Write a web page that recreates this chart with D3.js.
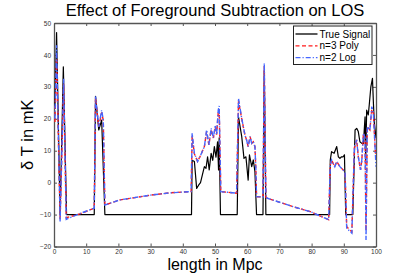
<!DOCTYPE html>
<html>
<head>
<meta charset="utf-8">
<script src="https://cdn.jsdelivr.net/npm/d3@7"></script>
<style>
  body { margin: 0; background: #fff; }
  svg { font-family: "Liberation Sans", Arial, sans-serif; }
  .axis text { font-size: 6.5px; fill: #333; }
  .axis path, .axis line { stroke: #555; }
</style>
</head>
<body>
<div id="chart"></div>
<script>
// posiciones a lo largo de la línea de visión (Mpc)
const signalLos = [0.3, 0.8, 1.9, 2.9, 3.9, 12.5, 12.9, 13.9, 14.8, 15.8, 42.7, 42.9, 43.6, 44.3, 44.9, 45.5, 46.7, 47.2, 47.7, 48.2, 48.8, 49.3, 49.8, 50.3, 50.8, 51.1, 51.3, 51.7, 56.9, 57.3, 58.3, 59.0, 59.6, 60.3, 60.7, 61.4, 61.9, 62.4, 62.9, 64.9, 65.3, 65.8, 85.6, 85.8, 86.2, 87.0, 87.8, 88.3, 88.8, 89.3, 89.8, 90.2, 90.6, 92.8, 93.5, 94.0, 94.5, 95.0, 95.6, 96.1, 96.6, 96.8, 97.1, 97.6, 97.9, 98.4, 98.9, 99.2, 99.5, 100];
// señal verdadera (mK)
const signalT = [24, 47, -10, 36.3, -10, -10, 27, 16.5, 19.6, -10, -10, 7, 6.6, -1.8, -0.8, 0, 5, 4.5, 8.1, 4, 9.2, 7, 11.3, 8, 12.8, 4, 14, -10, -10, 20.6, 14.4, 7.6, 8.1, 0.8, 8.7, 5, 7.1, 3.4, -10, -10, 35, -10, -10, 7.1, 9.7, 9.2, 11.3, 8.1, 7.6, 8.1, 8.1, 8.7, -10, -10, 16.5, 17, 16, 12.8, 12.3, 12.3, 20.6, 7.1, 22.7, 21.2, 24.3, 30, 32.7, 24.8, 18.6, 14];

// posiciones de las dos restas de foreground
const fitLos = [0.3, 0.8, 1.9, 3.0, 3.8, 8, 12.5, 12.9, 13.9, 14.8, 15.3, 15.8, 20.5, 30, 36, 42.6, 42.9, 43.6, 44.6, 45.5, 46.7, 47.4, 48.1, 48.8, 49.5, 50.1, 50.5, 51.0, 51.3, 51.8, 56.7, 57.3, 58.3, 59.3, 59.8, 60.3, 60.9, 61.4, 61.9, 62.4, 62.7, 62.9, 64.9, 65.3, 65.8, 66.3, 74.2, 79.6, 85.3, 85.8, 86.2, 86.7, 87.2, 87.8, 88.8, 89.8, 90.4, 90.9, 92.5, 93.3, 94.0, 94.5, 95.2, 95.6, 96.1, 96.6, 96.9, 97.3, 98.1, 98.7, 99.2, 99.7, 100];
const polyT = [19, 40, -11.5, 31, -11, -9.8, -8, 26.5, 17.5, 22, 19.6, -7, -5.4, -3.9, -3.2, -2.8, 14.5, 9, 6.6, 8.5, 11.3, 16, 11.8, 16.5, 14, 17.5, 15, 22, 23, -2.8, -3.3, 25.5, 20, 14.9, 13.4, 11.3, 14.4, 12.3, 12.8, 11.3, 4, -4.4, -4.5, 36.5, -4.6, -4.9, -7.5, -9.1, -11.6, 5.5, 7.1, 6, 5, 6.6, 5, 4, 2.9, -13.8, -15.4, 11, 13.4, 8.1, 4, 7.1, 15.5, 14, -15, 17.5, 16.5, 23, 21.7, 11.3, 7.1];
const logT = [20, 43, -12.2, 32.5, -11.5, -9.7, -8, 27, 17.5, 22.7, 19.6, -7, -5.4, -3.9, -3.2, -2.8, 15.5, 9.2, 6.6, 8.5, 11.3, 16.5, 11.8, 17, 14, 18, 15, 22.7, 24, -2.8, -3.3, 26.4, 20.1, 14.9, 13.4, 11.3, 14.4, 12.3, 12.8, 11.3, 4, -4.4, -4.5, 37.4, -4.6, -4.9, -7.5, -9.1, -11.6, 5.5, 7.1, 6, 5, 6.6, 5, 4, 2.9, -14.3, -15.8, 11.3, 13.4, 8.1, 4, 7.1, 15.5, 14, -18, 17.5, 16.5, 23.8, 21.7, 11.3, 5];

const xTicks = [0, 10, 20, 30, 40, 50, 60, 70, 80, 90, 100];
const yTicks = [-20, -10, 0, 10, 20, 30, 40, 50];
const legendLabels = ['True Signal', 'n=3 Poly', 'n=2 Log'];

const width = 415;
const height = 278;
const margin = { top: 23, right: 39, bottom: 31.5, left: 54 };

const x = d3.scaleLinear().domain([0, 100]).range([margin.left, width - margin.right]);
const y = d3.scaleLinear().domain([-20, 50]).range([height - margin.bottom, margin.top]);

const svg = d3.select('#chart')
  .append('svg')
  .attr('width', width)
  .attr('height', height);

svg.append('defs').append('clipPath')
  .attr('id', 'clip')
  .append('rect')
  .attr('x', x(0)).attr('y', y(50))
  .attr('width', x(100) - x(0)).attr('height', y(-20) - y(50));

// ejes con las marcas hacia dentro, estilo matlab
svg.append('g')
  .attr('class', 'x axis')
  .attr('transform', `translate(0,${y(-20)})`)
  .call(d3.axisBottom(x).tickValues(xTicks).tickSizeInner(-3).tickSizeOuter(0).tickPadding(2.5));

svg.append('g')
  .attr('class', 'x axis top')
  .attr('transform', `translate(0,${y(50)})`)
  .call(d3.axisTop(x).tickValues(xTicks).tickSizeInner(-3).tickSizeOuter(0).tickFormat(''));

svg.append('g')
  .attr('class', 'y axis')
  .attr('transform', `translate(${x(0)},0)`)
  .call(d3.axisLeft(y).tickValues(yTicks).tickSizeInner(-3).tickSizeOuter(0).tickPadding(3));

svg.append('g')
  .attr('class', 'y axis right')
  .attr('transform', `translate(${x(100)},0)`)
  .call(d3.axisRight(y).tickValues(yTicks).tickSizeInner(-3).tickSizeOuter(0).tickFormat(''));

svg.selectAll('.axis .domain').attr('stroke-width', 1.3);

const lineOf = (los, vals) => d3.line()
  .x((d, i) => x(los[i]))
  .y(d => y(d))(vals);

const plot = svg.append('g').attr('clip-path', 'url(#clip)');

plot.append('path')
  .attr('d', lineOf(signalLos, signalT))
  .attr('fill', 'none')
  .attr('stroke', '#000')
  .attr('stroke-width', 1.2)
  .attr('stroke-linejoin', 'round');

plot.append('path')
  .attr('d', lineOf(fitLos, polyT))
  .attr('fill', 'none')
  .attr('stroke', '#ff1a1a')
  .attr('stroke-width', 1.4)
  .attr('stroke-dasharray', '4,2.5');

plot.append('path')
  .attr('d', lineOf(fitLos, logT))
  .attr('fill', 'none')
  .attr('stroke', '#4466ff')
  .attr('stroke-width', 1.4)
  .attr('stroke-dasharray', '5,2,1.2,2');

// leyenda
const legendG = svg.append('g').attr('class', 'legend');
legendG.append('rect')
  .attr('x', 293.5).attr('y', 26)
  .attr('width', 78.5).attr('height', 38.5)
  .attr('fill', '#fff')
  .attr('stroke', '#222')
  .attr('stroke-width', 1);

const legendStyles = [
  { stroke: '#000', dash: null },
  { stroke: '#ff1a1a', dash: '4,2.5' },
  { stroke: '#4466ff', dash: '5,2,1.2,2' }
];

legendLabels.forEach((label, i) => {
  const cy = 34 + i * 11.8;
  legendG.append('line')
    .attr('x1', 295.5).attr('x2', 317.5)
    .attr('y1', cy).attr('y2', cy)
    .attr('stroke', legendStyles[i].stroke)
    .attr('stroke-width', 1.3)
    .attr('stroke-dasharray', legendStyles[i].dash);
  legendG.append('text')
    .attr('x', 319.5).attr('y', cy + 3.6)
    .attr('font-size', 10)
    .attr('fill', '#000')
    .text(label);
});

// títulos
svg.append('text')
  .attr('x', 215).attr('y', 15.5)
  .attr('text-anchor', 'middle')
  .attr('font-size', 16.5)
  .text('Effect of Foreground Subtraction on LOS');

svg.append('text')
  .attr('x', 215).attr('y', 270)
  .attr('text-anchor', 'middle')
  .attr('font-size', 16)
  .text('length in Mpc');

svg.append('text')
  .attr('transform', `translate(33,${(y(50) + y(-20)) / 2}) rotate(-90)`)
  .attr('text-anchor', 'middle')
  .attr('font-size', 16.5)
  .text('δ T in mK');
</script>
</body>
</html>
